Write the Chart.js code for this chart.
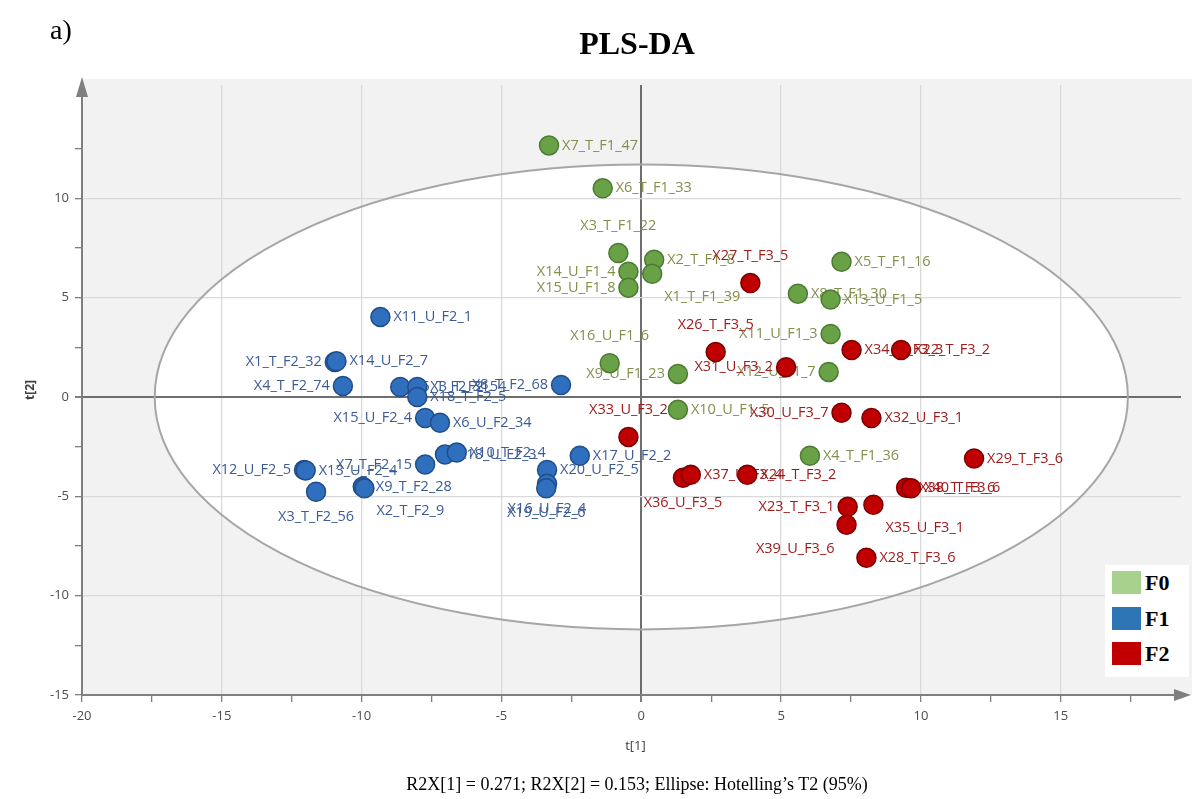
<!DOCTYPE html>
<html>
<head>
<meta charset="utf-8">
<script src="https://cdn.jsdelivr.net/npm/chart.js"></script>
<style>
body{margin:0;background:#fff;}
#wrap{position:relative;width:1192px;height:799px;overflow:hidden;}
#box{position:absolute;left:0;top:0;width:1192px;height:799px;}
#panel{position:absolute;left:50px;top:14px;font:28px "Liberation Serif",serif;color:#000;}
#title{position:absolute;left:0;width:1274px;top:25px;text-align:center;font:bold 32px "Liberation Serif",serif;color:#000;}
#caption{position:absolute;left:0;width:1274px;top:774px;text-align:center;font:18px "Liberation Serif",serif;color:#000;}
#legend{position:absolute;left:1105px;top:565px;width:84px;height:112px;background:#fff;}
.row{position:absolute;left:7px;height:24px;font:bold 22px "Liberation Serif",serif;line-height:24px;}
.row span{display:inline-block;width:29px;height:23px;vertical-align:top;margin-right:4px;}
</style>
</head>
<body>
<div id="wrap">
<div id="box"><canvas id="plsChart"></canvas></div>
<div id="panel">a)</div>
<div id="title">PLS-DA</div>
<div id="caption">R2X[1] = 0.271; R2X[2] = 0.153; Ellipse: Hotelling’s T2 (95%)</div>
<div id="legend">
<div class="row" style="top:6px"><span style="background:#a9d18e"></span>F0</div>
<div class="row" style="top:42px"><span style="background:#2e75b6"></span>F1</div>
<div class="row" style="top:77px"><span style="background:#c00000"></span>F2</div>
</div>
</div>
<script>
// F0 samples
const f0Names = ["X7_T_F1_47","X6_T_F1_33","X3_T_F1_22","X2_T_F1_8","X14_U_F1_4","X1_T_F1_39","X15_U_F1_8","X5_T_F1_16","X8_T_F1_30","X13_U_F1_5","X11_U_F1_3","X16_U_F1_6","X9_U_F1_23","X12_U_F1_7","X10_U_F1_5","X4_T_F1_36"];
const f0T1 = [-3.3,-1.38,-0.82,0.46,-0.46,0.39,-0.46,7.16,5.6,6.77,6.77,-1.13,1.31,6.7,1.31,6.03];
const f0T2 = [12.66,10.5,7.24,6.9,6.3,6.2,5.5,6.8,5.2,4.9,3.17,1.7,1.16,1.26,-0.65,-2.96];

// F1 samples
const f1Names = ["X11_U_F2_1","X1_T_F2_32","X14_U_F2_7","X4_T_F2_74","X5_T_F2_31","X3_T_F2_54","X18_T_F2_5","X8_T_F2_68","X15_U_F2_4","X6_U_F2_34","X18_U_F2_3","X10_T_F2_4","X7_T_F2_15","X12_U_F2_5","X13_U_F2_4","X3_T_F2_56","X9_T_F2_28","X2_T_F2_9","X20_U_F2_5","X16_U_F2_4","X19_U_F2_6","X17_U_F2_2"];
const f1T1 = [-9.33,-10.96,-10.9,-10.67,-8.62,-8.01,-8.01,-2.87,-7.73,-7.2,-7.02,-6.6,-7.73,-12.06,-12.0,-11.63,-9.96,-9.9,-3.37,-3.37,-3.4,-2.2];
const f1T2 = [4.02,1.76,1.8,0.55,0.5,0.5,0.0,0.6,-1.06,-1.3,-2.9,-2.8,-3.4,-3.67,-3.7,-4.77,-4.52,-4.6,-3.67,-4.37,-4.6,-2.96];

// F2 samples
const f2Names = ["X27_T_F3_5","X26_T_F3_5","X31_U_F3_2","X34_U_F3_3","X22_T_F3_2","X30_U_F3_7","X32_U_F3_1","X33_U_F3_2","X36_U_F3_5","X37_U_F3_4","X24_T_F3_2","X29_T_F3_6","X38_T_F3_6","X40_T_F3_6","X23_T_F3_1","X35_U_F3_1","X39_U_F3_6","X28_T_F3_6"];
const f2T1 = [3.9,2.66,5.18,7.52,9.29,7.16,8.23,-0.46,1.49,1.77,3.79,11.9,9.47,9.65,7.38,8.3,7.34,8.05];
const f2T2 = [5.73,2.26,1.5,2.36,2.36,-0.8,-1.06,-2.01,-4.07,-3.92,-3.92,-3.1,-4.57,-4.6,-5.53,-5.43,-6.43,-8.09];

// Hotelling T2 ellipse semi axes
const ellipseA = 17.4;
const ellipseB = 11.7;

// where a label sits relative to its point (default: right)
const labelSide = {
  "X3_T_F1_22":"a","X14_U_F1_4":"l","X1_T_F1_39":"br","X15_U_F1_8":"l","X11_U_F1_3":"l",
  "X16_U_F1_6":"a","X9_U_F1_23":"l","X12_U_F1_7":"l",
  "X1_T_F2_32":"l","X4_T_F2_74":"l","X8_T_F2_68":"l","X15_U_F2_4":"l","X7_T_F2_15":"l",
  "X12_U_F2_5":"l","X3_T_F2_56":"b","X2_T_F2_9":"br","X16_U_F2_4":"b","X19_U_F2_6":"b",
  "X27_T_F3_5":"a","X26_T_F3_5":"a","X31_U_F3_2":"l","X30_U_F3_7":"l","X33_U_F3_2":"a",
  "X36_U_F3_5":"b","X23_T_F3_1":"l","X35_U_F3_1":"br","X39_U_F3_6":"bl"
};

function pts(a, b){ return a.map((v,i)=>({x:v,y:b[i]})); }

const plsPlugin = {
  id:'plsExtras',
  beforeDraw(chart){
    const {ctx, chartArea:a, scales:{x,y}} = chart;
    ctx.save();
    ctx.fillStyle='#f2f2f2';
    ctx.fillRect(a.left, a.top-6, chart.width-a.left, a.bottom-a.top+6);
    ctx.beginPath();
    ctx.ellipse(x.getPixelForValue(0), y.getPixelForValue(0),
      x.getPixelForValue(ellipseA)-x.getPixelForValue(0),
      y.getPixelForValue(0)-y.getPixelForValue(ellipseB), 0, 0, Math.PI*2);
    ctx.fillStyle='#fff';
    ctx.fill();
    ctx.restore();
  },
  beforeDatasetsDraw(chart){
    const {ctx, scales:{x,y}} = chart;
    ctx.save();
    ctx.beginPath();
    ctx.ellipse(x.getPixelForValue(0), y.getPixelForValue(0),
      x.getPixelForValue(ellipseA)-x.getPixelForValue(0),
      y.getPixelForValue(0)-y.getPixelForValue(ellipseB), 0, 0, Math.PI*2);
    ctx.strokeStyle='#a6a6a6';
    ctx.lineWidth=2;
    ctx.stroke();
    ctx.font='14.5px "Open Sans", sans-serif';
    ctx.textBaseline='middle';
    chart.data.datasets.forEach((ds,i)=>{
      const meta = chart.getDatasetMeta(i);
      ctx.fillStyle = ds.labelColor;
      meta.data.forEach((el,j)=>{
        const name = ds.names[j];
        const side = labelSide[name] || 'r';
        let px = el.x, py = el.y;
        if (side==='r'){ ctx.textAlign='left'; px += 13; }
        else if (side==='l'){ ctx.textAlign='right'; px -= 13; }
        else if (side==='a'){ ctx.textAlign='center'; py -= 27; }
        else if (side==='b'){ ctx.textAlign='center'; py += 25; }
        else if (side==='br'){ ctx.textAlign='left'; px += 12; py += 23; }
        else if (side==='bl'){ ctx.textAlign='right'; px -= 12; py += 24; }
        ctx.fillText(name, px, py);
      });
    });
    ctx.restore();
  },
  afterDraw(chart){
    const {ctx, chartArea:a} = chart;
    ctx.save();
    ctx.fillStyle='#7f7f7f';
    ctx.beginPath();
    ctx.moveTo(a.left, a.top-8); ctx.lineTo(a.left-6, a.top+12); ctx.lineTo(a.left+6, a.top+12);
    ctx.fill();
    ctx.beginPath();
    ctx.moveTo(chart.width-1, a.bottom); ctx.lineTo(chart.width-18, a.bottom-6); ctx.lineTo(chart.width-18, a.bottom+6);
    ctx.fill();
    ctx.fillStyle='#404040';
    ctx.font='13px "Open Sans", sans-serif';
    ctx.textAlign='center';
    ctx.textBaseline='middle';
    ctx.fillText('t[1]', (a.left+a.right)/2 + 4, 746);
    ctx.translate(31, (a.top+a.bottom)/2);
    ctx.rotate(-Math.PI/2);
    ctx.font='bold 12px "Open Sans", sans-serif';
    ctx.fillText('t[2]', 0, 0);
    ctx.restore();
  }
};

// labelled, gridded ticks every 5; on y the top value (15) sits under the arrow
function axisOpts(limit){
  const major = v => Math.abs(v % 5) < 1e-6 && v < limit;
  return {
    ticks:{stepSize:2.5, includeBounds:false, padding:6, color:'#4d4d4d',
      font:{family:'"Open Sans", sans-serif', size:13},
      callback:v => major(v) ? v : ''},
    grid:{
      color:c => c.tick && major(c.tick.value) ? (c.tick.value===0 ? '#6e6e6e' : '#d9d9d9') : 'rgba(0,0,0,0)',
      lineWidth:c => c.tick && c.tick.value===0 ? 2 : 1.3,
      tickColor:c => c.tick && c.tick.value >= limit ? 'rgba(0,0,0,0)' : '#7f7f7f',
      tickLength:7
    },
    border:{color:'#7f7f7f', width:2}
  };
}

new Chart(document.getElementById('plsChart'), {
  type:'scatter',
  data:{
    datasets:[
      {label:'F0', names:f0Names, labelColor:'#848f4c', data:pts(f0T1,f0T2),
       backgroundColor:'#69a246', borderColor:'#4d7a32'},
      {label:'F1', names:f1Names, labelColor:'#3b5b96', data:pts(f1T1,f1T2),
       backgroundColor:'#2f6fbd', borderColor:'#1f4e8a'},
      {label:'F2', names:f2Names, labelColor:'#a01c1c', data:pts(f2T1,f2T2),
       backgroundColor:'#c00000', borderColor:'#7a0000'}
    ]
  },
  options:{
    responsive:true,
    maintainAspectRatio:false,
    animation:false,
    layout:{padding:{left:0, top:85, right:7, bottom:74}},
    elements:{point:{radius:9.5, borderWidth:1.5, hoverRadius:9.5}},
    plugins:{legend:{display:false}, title:{display:false}, tooltip:{enabled:false}},
    scales:{
      x:Object.assign({type:'linear', min:-20, max:19.3, afterFit(s){ s.height = 30; }}, axisOpts(99)),
      y:Object.assign({type:'linear', min:-15, max:15.7, afterFit(s){ s.width = 82; }}, axisOpts(14))
    }
  },
  plugins:[plsPlugin]
});
</script>
</body>
</html>
